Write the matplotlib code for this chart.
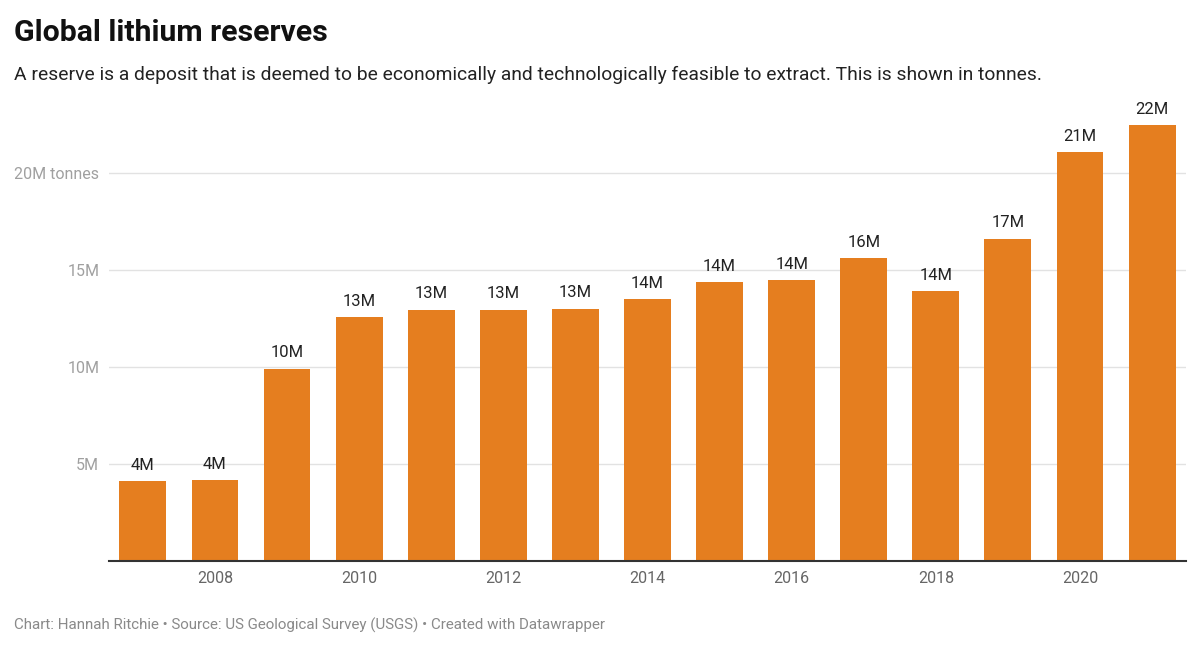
import matplotlib
matplotlib.use('Agg')
import matplotlib.pyplot as plt

# Global lithium reserves (tonnes)
years = [2007, 2008, 2009, 2010, 2011, 2012, 2013, 2014,
         2015, 2016, 2017, 2018, 2019, 2020, 2021]
reserves = [4.1e6, 4.15e6, 9.9e6, 12.55e6, 12.95e6, 12.95e6, 13.0e6, 13.5e6,
            14.35e6, 14.45e6, 15.6e6, 13.9e6, 16.6e6, 21.05e6, 22.45e6]
bar_labels = ['4M', '4M', '10M', '13M', '13M', '13M', '13M', '14M',
              '14M', '14M', '16M', '14M', '17M', '21M', '22M']
ytick_vals = [5e6, 10e6, 15e6, 20e6]
ytick_labels = ['5M', '10M', '15M', '20M tonnes']
xtick_vals = [2008, 2010, 2012, 2014, 2016, 2018, 2020]

plt.rcParams['font.family'] = ['Roboto', 'DejaVu Sans']

fig = plt.figure(figsize=(12, 6.48), dpi=100)
ax = fig.add_axes([0.0908, 0.1343, 0.8975, 0.689])

ax.bar(years, reserves, width=0.65, color='#e57e1f', zorder=3)
for x, v, lab in zip(years, reserves, bar_labels):
    ax.annotate(lab, xy=(x, v), xytext=(0, 6), textcoords='offset points',
                ha='center', va='bottom', fontsize=12, color='#222222', zorder=4)

ax.set_xlim(2006.53, 2021.47)
ax.set_ylim(0, 23e6)
ax.set_yticks(ytick_vals)
ax.set_yticklabels(ytick_labels)
ax.set_xticks(xtick_vals)
ax.set_xticklabels([str(y) for y in xtick_vals])

ax.grid(axis='y', color='#e2e2e2', linewidth=1, zorder=0)
ax.set_axisbelow(True)
for s in ['top', 'right', 'left']:
    ax.spines[s].set_visible(False)
ax.spines['bottom'].set_color('#333333')
ax.spines['bottom'].set_linewidth(1.5)
ax.spines['bottom'].set_zorder(5)
ax.tick_params(axis='y', length=0, pad=7, labelsize=11.5, labelcolor='#a0a0a0')
ax.tick_params(axis='x', length=0, pad=7.5, labelsize=11.5, labelcolor='#666666')

fig.text(0.0117, 0.949, 'Global lithium reserves', fontsize=21.8, fontweight='bold',
         color='#111111', va='center', ha='left')
fig.text(0.0117, 0.885,
         'A reserve is a deposit that is deemed to be economically and technologically '
         'feasible to extract. This is shown in tonnes.',
         fontsize=13.9, color='#222222', va='center', ha='left')
fig.text(0.0117, 0.035,
         'Chart: Hannah Ritchie \u2022 Source: US Geological Survey (USGS) \u2022 Created with Datawrapper',
         fontsize=10.9, color='#8a8a8a', va='center', ha='left')

fig.savefig('out.png', dpi=100)
